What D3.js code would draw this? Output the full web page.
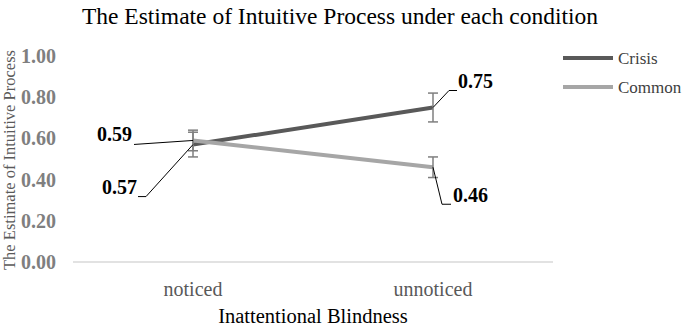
<!DOCTYPE html>
<html>
<head>
<meta charset="utf-8">
<script src="https://cdn.jsdelivr.net/npm/d3@7"></script>
<style>
  body { margin: 0; background: #fff; }
  svg { display: block; }
  svg text { font-family: "Liberation Serif", "Times New Roman", serif; }
</style>
</head>
<body>
<div id="chart"></div>
<script>
let w = 685;
let h = 326;

// data
let categories = ["noticed", "unnoticed"];
let seriesNames = ["Crisis", "Common"];
let crisisValues = [0.57, 0.75];
let commonValues = [0.59, 0.46];
let crisisErrors = [0.06, 0.07];
let commonErrors = [0.05, 0.05];
let yTicks = [0, 0.2, 0.4, 0.6, 0.8, 1.0];

let colors = { Crisis: "#595959", Common: "#a6a6a6" };

let series = [
  { name: "Crisis", values: crisisValues, errors: crisisErrors },
  { name: "Common", values: commonValues, errors: commonErrors }
];

// where each data label sits, relative to its point
let labelPlacement = {
  "Crisis-0": { anchor: "end", tx: -56, ty: 49, leader: [[0, 0], [-47, 52], [-55, 52]] },
  "Common-0": { anchor: "end", tx: -61, ty: 1, leader: [[0, 0], [-59, 4]] },
  "Crisis-1": { anchor: "start", tx: 25, ty: -20, leader: [[0, 0], [16, -17], [24, -17]] },
  "Common-1": { anchor: "start", tx: 20, ty: 35, leader: [[0, 0], [9, 37], [18, 37]] }
};

let svg = d3.select("#chart")
  .append("svg")
  .attr("width", w)
  .attr("height", h);

let xScale = d3.scaleBand()
  .domain(categories)
  .range([73, 553])
  .padding(0);

let yScale = d3.scaleLinear()
  .domain([0, 1])
  .range([262, 56]);

let cx = c => xScale(c) + xScale.bandwidth() / 2;

// title
svg.append("text")
  .attr("x", 340)
  .attr("y", 24)
  .attr("text-anchor", "middle")
  .style("font-size", "23.5px")
  .style("fill", "#000")
  .text("The Estimate of Intuitive Process under each condition");

// y axis labels
svg.append("g")
  .selectAll("text")
  .data(yTicks)
  .join("text")
  .attr("x", 56)
  .attr("y", d => yScale(d))
  .attr("dy", "0.35em")
  .attr("text-anchor", "end")
  .style("font-size", "20px")
  .style("font-weight", "bold")
  .style("fill", "#7f7f7f")
  .text(d => d3.format(".2f")(d));

// baseline
svg.append("line")
  .attr("x1", xScale.range()[0])
  .attr("x2", xScale.range()[1])
  .attr("y1", yScale(0))
  .attr("y2", yScale(0))
  .attr("stroke", "#d9d9d9")
  .attr("stroke-width", 1.5);

// x axis labels
svg.append("g")
  .selectAll("text")
  .data(categories)
  .join("text")
  .attr("x", d => cx(d))
  .attr("y", 296)
  .attr("text-anchor", "middle")
  .style("font-size", "20px")
  .style("fill", "#595959")
  .text(d => d);

svg.append("text")
  .attr("x", 313)
  .attr("y", 323)
  .attr("text-anchor", "middle")
  .style("font-size", "20.5px")
  .style("fill", "#000")
  .text("Inattentional Blindness");

svg.append("text")
  .attr("transform", "translate(14.5,160) rotate(-90)")
  .attr("text-anchor", "middle")
  .style("font-size", "16.5px")
  .style("fill", "#595959")
  .text("The Estimate of Intuitive Process");

// lines
let line = d3.line()
  .x((d, i) => cx(categories[i]))
  .y(d => yScale(d));

series.forEach(s => {
  svg.append("path")
    .datum(s.values)
    .attr("fill", "none")
    .attr("stroke", colors[s.name])
    .attr("stroke-width", 4)
    .attr("d", line);
});

// error bars
series.forEach(s => {
  s.values.forEach((v, i) => {
    let x = cx(categories[i]);
    let top = yScale(v + s.errors[i]);
    let bot = yScale(v - s.errors[i]);
    let g = svg.append("g")
      .attr("stroke", "#7f7f7f")
      .attr("stroke-width", 1.5);
    g.append("line").attr("x1", x).attr("x2", x).attr("y1", top).attr("y2", bot);
    g.append("line").attr("x1", x - 5).attr("x2", x + 5).attr("y1", top).attr("y2", top);
    g.append("line").attr("x1", x - 5).attr("x2", x + 5).attr("y1", bot).attr("y2", bot);
  });
});

// data labels with leader lines
series.forEach(s => {
  s.values.forEach((v, i) => {
    let x = cx(categories[i]);
    let y = yScale(v);
    let p = labelPlacement[s.name + "-" + i];
    svg.append("path")
      .attr("d", d3.line()(p.leader.map(q => [x + q[0], y + q[1]])))
      .attr("fill", "none")
      .attr("stroke", "#000")
      .attr("stroke-width", 1);
    svg.append("text")
      .attr("x", x + p.tx)
      .attr("y", y + p.ty)
      .attr("text-anchor", p.anchor)
      .style("font-size", "20px")
      .style("font-weight", "bold")
      .style("fill", "#000")
      .text(d3.format(".2f")(v));
  });
});

// legend
let legend = svg.append("g")
  .selectAll("g")
  .data(seriesNames)
  .join("g")
  .attr("transform", (d, i) => "translate(563," + (58 + i * 29) + ")");

legend.append("line")
  .attr("x1", 0)
  .attr("x2", 50)
  .attr("stroke", d => colors[d])
  .attr("stroke-width", 4);

legend.append("text")
  .attr("x", 55)
  .attr("dy", "0.35em")
  .style("font-size", "17px")
  .style("fill", "#404040")
  .text(d => d);
</script>
</body>
</html>
